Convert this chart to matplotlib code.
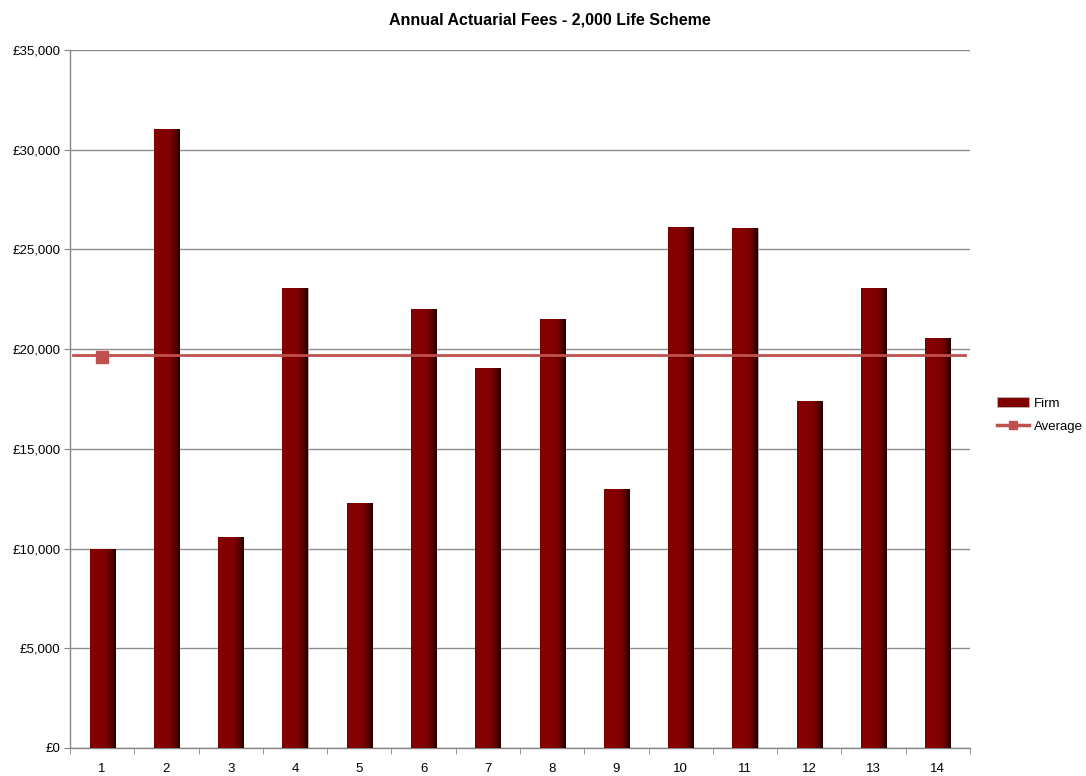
import matplotlib
matplotlib.use("Agg")
import matplotlib.pyplot as plt
import numpy as np
from matplotlib.colors import LinearSegmentedColormap
from matplotlib.ticker import FuncFormatter, FixedLocator

categories = [str(i) for i in range(1, 15)]
firm_fees = [10000, 31050, 10600, 23050, 12300, 22000, 19050, 21530, 13000, 26100, 26050, 17400, 23050, 20570]
average_fee = 19700
y_ticks = [0, 5000, 10000, 15000, 20000, 25000, 30000, 35000]

plt.rcParams['font.family'] = ['Liberation Sans', 'DejaVu Sans']

fig = plt.figure(figsize=(10.86, 7.76), dpi=100)
ax = fig.add_axes([70/1086, 28/776, 900/1086, 698/776])

x = np.arange(len(categories))
bars = ax.bar(x, firm_fees, width=0.39, color='#800000', edgecolor='#b8b8b8', linewidth=0.6, zorder=3, label='Firm')

# shading gradient across each bar (3D bevel look)
cmap = LinearSegmentedColormap.from_list('bev', [(0, '#7a0000'), (0.08, '#860101'), (0.6, '#800000'), (0.82, '#5a0000'), (1, '#1e0000')])
grad = np.linspace(0, 1, 64).reshape(1, -1)
for b in bars:
    x0, w, h = b.get_x(), b.get_width(), b.get_height()
    im = ax.imshow(grad, cmap=cmap, extent=[x0, x0 + w, 0, h], aspect='auto', zorder=3.5, interpolation='bilinear')
    im.set_clip_path(b)

ax.set_xlim(-0.5, len(categories) - 0.5)
ax.set_ylim(0, 35000)

# average line
ax.plot([-0.45, len(categories) - 0.57], [average_fee, average_fee], color='#c0504d', linewidth=2, zorder=4)
ax.plot([0], [average_fee - 100], marker='s', color='#c0504d', markersize=9, linestyle='none', zorder=5)
avg_handle, = ax.plot([], [], color='#c0504d', linewidth=2.5, marker='s', markersize=6, label='Average')

ax.yaxis.set_major_locator(FixedLocator(y_ticks))
ax.yaxis.set_major_formatter(FuncFormatter(lambda v, p: '£{:,.0f}'.format(v)))
ax.grid(axis='y', color='#8c8c8c', linewidth=1, zorder=0)
ax.set_axisbelow(True)

ax.set_xticks(x)
ax.set_xticklabels(categories)
ax.set_xticks(np.arange(-0.5, len(categories)), minor=True)
ax.tick_params(axis='x', which='major', length=0, pad=11, labelsize=9.5)
ax.tick_params(axis='x', which='minor', length=4, color='#868686')
ax.tick_params(axis='y', length=4, color='#868686', labelsize=9.5, pad=3)

for s in ['top', 'right']:
    ax.spines[s].set_visible(False)
for s in ['left', 'bottom']:
    ax.spines[s].set_color('#868686')
    ax.spines[s].set_linewidth(1)

fig.text(550/1086, 1 - 20/776, 'Annual Actuarial Fees - 2,000 Life Scheme', ha='center', va='center',
         fontsize=11.5, fontweight='bold', family=['Liberation Sans Narrow', 'Liberation Sans', 'DejaVu Sans'])

leg = fig.legend(handles=[bars, avg_handle], labels=['Firm', 'Average'], loc='center left',
                 bbox_to_anchor=(988/1086, 1 - 415/776), frameon=False, fontsize=9.5,
                 handlelength=2.4, handletextpad=0.35, labelspacing=0.8, borderpad=0.2)

fig.savefig('out.png', dpi=100, facecolor='white')
